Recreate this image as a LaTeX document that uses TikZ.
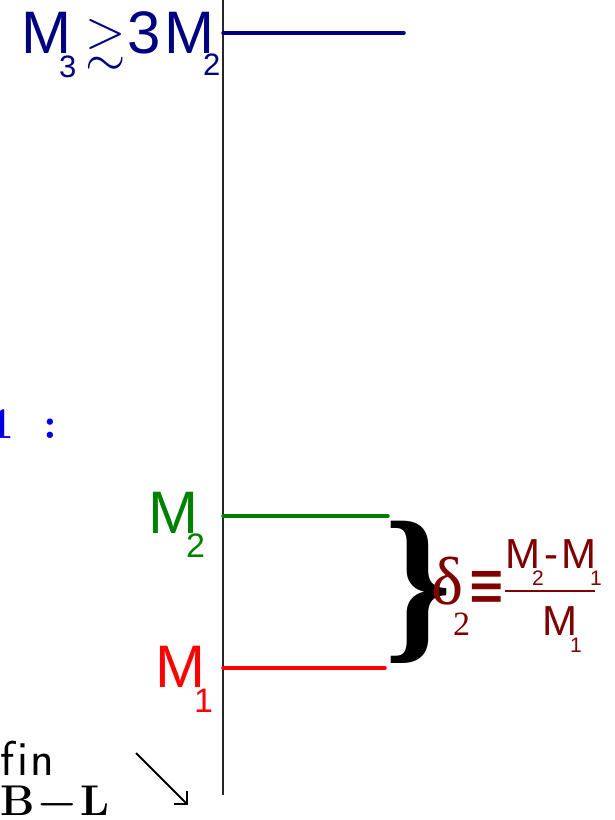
\documentclass[tikz,border=0pt]{standalone}
\usepackage{fontspec}
\usepackage{amssymb}
\usetikzlibrary{arrows.meta}
\newfontfamily\ars{Liberation Sans}
\newfontfamily\tms{Liberation Serif}
\newfontfamily\djv{DejaVu Sans}
\definecolor{navyc}{RGB}{0,0,128}
\definecolor{greenc}{RGB}{0,128,0}
\definecolor{redc}{RGB}{255,0,0}
\definecolor{maroonc}{RGB}{128,0,0}
\definecolor{bluec}{RGB}{0,0,225}
\newcommand{\fsz}[1]{\fontsize{#1}{#1}\selectfont}
\tikzset{lbl/.style={inner sep=0pt, anchor=base west}}
\begin{document}
\begin{tikzpicture}[x=1pt,y=-1pt]
\useasboundingbox (0,0) rectangle (614,820);
% axis
\coordinate (axtop) at (223,0);
\coordinate (axbot) at (223,795);
\draw[line width=1.6pt, black!85] (axtop) -- (axbot);
% levels
\coordinate (l3a) at (223,33); \coordinate (l3b) at (404,33);
\coordinate (l2a) at (223,516); \coordinate (l2b) at (388,516);
\coordinate (l1a) at (223,668); \coordinate (l1b) at (385,668);
\draw[navyc, line width=3.5pt, line cap=round] (l3a) -- (l3b);
\draw[greenc, line width=3.5pt, line cap=round] (l2a) -- (l2b);
\draw[redc, line width=3.5pt, line cap=round] (l1a) -- (l1b);
% top label
\node[lbl, text=navyc, font=\ars\fsz{60}] (m3) at (21,53) {M};
\node[lbl, text=navyc, font=\ars\fsz{31}] (s3) at (59,77) {3};
\node[inner sep=0pt, text=navyc] (gt) at (106,44) {\fsz{52}$\gtrsim$};
\node[lbl, text=navyc, font=\ars\fsz{60}] (th) at (127,53) {3};
\node[lbl, text=navyc, font=\ars\fsz{60}] (m2t) at (164,53) {M};
\node[lbl, text=navyc, font=\ars\fsz{31}] (s2t) at (203,75) {2};
% 1 :
\node[inner sep=0pt, anchor=base east, text=bluec, font=\bfseries\fsz{44}] (one) at (58,438) {1\hspace{30pt}:};
% M2 green
\node[lbl, text=greenc, font=\ars\fsz{60}] (m2) at (148,533) {M};
\node[lbl, text=greenc, font=\ars\fsz{34}] (s2) at (186,557) {2};
% M1 red
\node[lbl, text=redc, font=\ars\fsz{60}] (m1) at (155,687) {M};
\node[lbl, text=redc, font=\ars\fsz{34}] (s1) at (194,712) {1};
% brace
\node[lbl, font=\tms\bfseries\fsz{172}] (br) at (384,640) {\}};
% delta
\node[lbl, text=maroonc, font=\tms\fsz{68}] (dl) at (431,604) {δ};
\node[lbl, text=maroonc, font=\tms\fsz{34}] (dls) at (453,635) {2};
\node[inner sep=0pt, text=maroonc] (eq) at (487,590) {\scalebox{1}[1.5]{\djv\fsz{46}≡}};
% fraction
\node[lbl, text=maroonc, font=\ars\fsz{42}] (fm2) at (505,568) {M};
\node[lbl, text=maroonc, font=\ars\fsz{21}] (fs2) at (532,585) {2};
\node[lbl, text=maroonc, font=\ars\fsz{42}] (fmin) at (544,568) {-};
\node[lbl, text=maroonc, font=\ars\fsz{42}] (fm1) at (561,568) {M};
\node[lbl, text=maroonc, font=\ars\fsz{21}] (fs1) at (590,585) {1};
\coordinate (fra) at (505,591); \coordinate (frb) at (595,591);
\draw[maroonc, line width=2.5pt] (fra) -- (frb);
\node[lbl, text=maroonc, font=\ars\fsz{42}] (bm1) at (542,635) {M};
\node[lbl, text=maroonc, font=\ars\fsz{21}] (bs1) at (570,652) {1};
% bottom left
\node[lbl, font=\sffamily\fsz{49}] (fin) at (0,775) {f\kern3pt i\kern2pt n};
\node[lbl, font=\bfseries\fsz{43}] (bl) at (0,815) {B\hspace{4pt}−\hspace{4pt}L};
\coordinate (ara) at (136,753); \coordinate (arb) at (188,805);
\draw[line width=2pt, -{Straight Barb[length=9pt,width=18pt]}] (ara) -- (arb);
\end{tikzpicture}
\end{document}
